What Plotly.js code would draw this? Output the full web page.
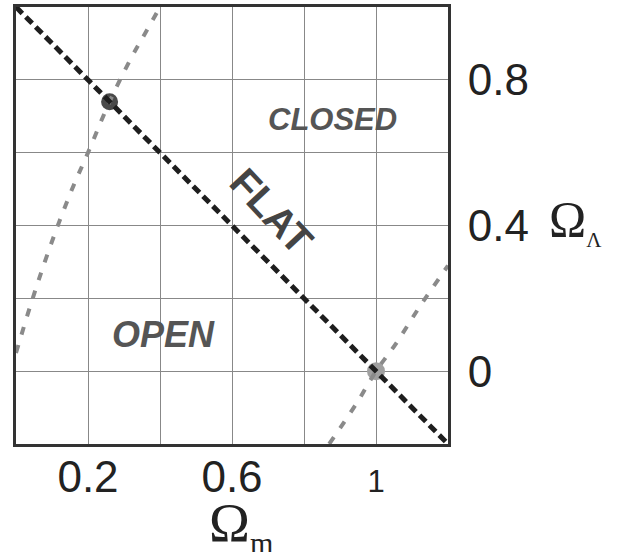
<!DOCTYPE html>
<html>
<head>
<meta charset="utf-8">
<script src="https://cdn.plot.ly/plotly-3.0.1.min.js"></script>
<style>
  html, body { margin: 0; padding: 0; background: #fff; }
  #chart { width: 622px; height: 552px; }
</style>
</head>
<body>
<div id="chart"></div>
<script>
  // ====== Data ======
  // flat universe line: Om + OL = 1
  var flatX = [0, 1.2];
  var flatY = [1, -0.2];
  // gray dashed curve through the concordance point
  var curveAX = [0.0, 0.04, 0.08, 0.12, 0.16, 0.2, 0.26, 0.32, 0.36, 0.4];
  var curveAY = [0.05, 0.18, 0.3, 0.41, 0.51, 0.6, 0.74, 0.86, 0.93, 1.0];
  // gray dashed line through (1, 0)
  var curveBX = [0.87, 0.945, 1.0, 1.055, 1.12, 1.2];
  var curveBY = [-0.2, -0.09, 0, 0.075, 0.175, 0.29];
  // points
  var concordX = [0.26], concordY = [0.74];
  var eds = { x: [1.0], y: [0.0] };
  // ticks
  var xTickVals = [0, 0.2, 0.4, 0.6, 0.8, 1.0, 1.2];
  var xTickText = ['', '0.2', '', '0.6', '', '<span style="font-size:31px">1</span>', ''];
  var yTickVals = [-0.2, 0, 0.2, 0.4, 0.6, 0.8, 1.0];
  var yTickText = ['', '0', '', '0.4', '', '0.8', ''];
  // region labels
  var regionText = ['<b><i>CLOSED</i></b>', '<b><i>OPEN</i></b>', '<b>FLAT</b>'];
  var regionX = [0.88, 0.41, 0.71];
  var regionY = [0.69, 0.10, 0.44];

  var sans = 'Liberation Sans, Arial, sans-serif';
  var serif = 'Liberation Serif, Times New Roman, serif';

  var traces = [
    {
      x: concordX, y: concordY, type: 'scatter', mode: 'markers',
      marker: { color: '#4a4a4a', size: 17 }, hoverinfo: 'skip'
    },
    {
      x: eds.x, y: eds.y, type: 'scatter', mode: 'markers',
      marker: { color: '#a0a0a0', size: 18 }, hoverinfo: 'skip'
    },
    {
      x: curveAX, y: curveAY, type: 'scatter', mode: 'lines',
      line: { color: '#8a8a8a', width: 4, dash: '8px,11px', shape: 'spline' }, hoverinfo: 'skip'
    },
    {
      x: curveBX, y: curveBY, type: 'scatter', mode: 'lines',
      line: { color: '#8a8a8a', width: 4, dash: '8px,11px', shape: 'spline' }, hoverinfo: 'skip'
    },
    {
      x: flatX, y: flatY, type: 'scatter', mode: 'lines',
      line: { color: '#1e1e1e', width: 5, dash: '9px,5px' }, hoverinfo: 'skip'
    }
  ];

  var annotations = [
    {
      x: regionX[0], y: regionY[0], xref: 'x', yref: 'y', text: regionText[0],
      showarrow: false, font: { family: sans, size: 31, color: '#555' }
    },
    {
      x: regionX[1], y: regionY[1], xref: 'x', yref: 'y', text: regionText[1],
      showarrow: false, font: { family: sans, size: 36, color: '#555' }
    },
    {
      x: regionX[2], y: regionY[2], xref: 'x', yref: 'y', text: regionText[2],
      showarrow: false, textangle: 47, font: { family: sans, size: 40, color: '#444' }
    },
    {
      x: 1.23, y: 0.51, xref: 'paper', yref: 'paper', xanchor: 'left', yanchor: 'middle',
      text: 'Ω<sub><span style="font-size:21px">Λ</span></sub>',
      showarrow: false, font: { family: serif, size: 50, color: '#222' }
    },
    {
      x: 0.52, y: -0.105, xref: 'paper', yref: 'paper', xanchor: 'center', yanchor: 'top',
      text: 'Ω<sub><span style="font-size:30px">m</span></sub>',
      showarrow: false, font: { family: serif, size: 55, color: '#222' }
    }
  ];

  var layout = {
    width: 622, height: 552,
    margin: { l: 16, r: 174, t: 7, b: 108 },
    paper_bgcolor: '#fff', plot_bgcolor: '#fff',
    showlegend: false,
    font: { family: sans, color: '#222' },
    xaxis: {
      range: [0, 1.2], tickvals: xTickVals, ticktext: xTickText,
      showgrid: true, gridcolor: '#888', gridwidth: 1,
      zeroline: false, showline: true, mirror: true, linecolor: '#333', linewidth: 3,
      ticks: '', ticklabelstandoff: -8,
      tickfont: { family: sans, size: 44, color: '#222' }
    },
    yaxis: {
      range: [-0.2, 1.0], tickvals: yTickVals, ticktext: yTickText, side: 'right',
      showgrid: true, gridcolor: '#888', gridwidth: 1,
      zeroline: false, showline: true, mirror: true, linecolor: '#333', linewidth: 3,
      ticks: '', ticklabelstandoff: 8,
      tickfont: { family: sans, size: 44, color: '#222' }
    },
    annotations: annotations
  };

  Plotly.newPlot('chart', traces, layout, { displayModeBar: false, staticPlot: true });
</script>
</body>
</html>
